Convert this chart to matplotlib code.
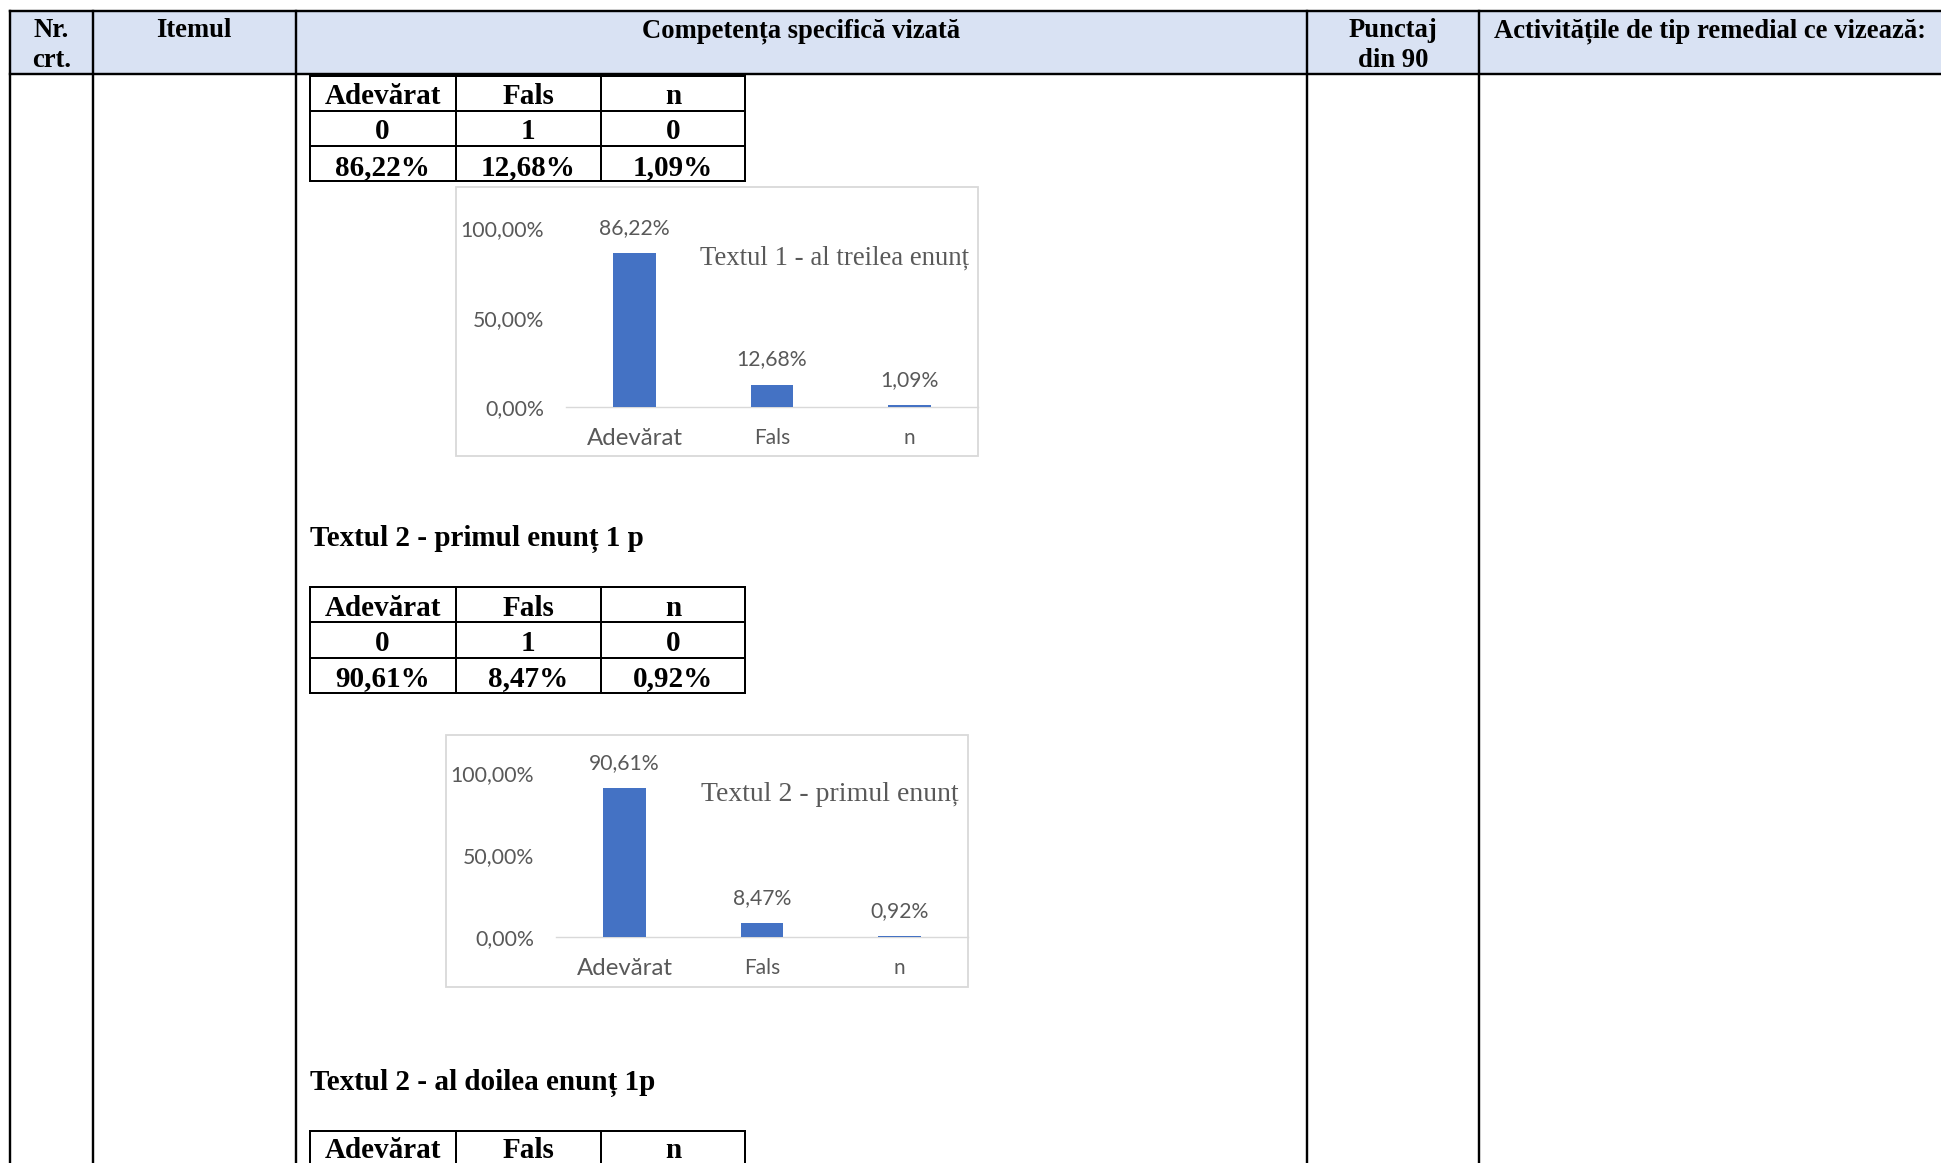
import matplotlib
matplotlib.use("Agg")
import matplotlib.pyplot as plt
from matplotlib.patches import Rectangle

# ---------------- data ----------------
categories = ["Adevărat", "Fals", "n"]
codes = ["0", "1", "0"]
chart1_values = [86.22, 12.68, 1.09]
chart2_values = [90.61, 8.47, 0.92]
chart1_title = "Textul 1 - al treilea enunț"
chart2_title = "Textul 2 - primul enunț"
heading2 = "Textul 2 - primul enunț 1 p"
heading3 = "Textul 2 - al doilea enunț 1p"
header_line1 = ["Nr.", "Itemul", "Competența specifică vizată", "Punctaj",
                "Activitățile de tip remedial ce vizează:"]
header_line2 = ["crt.", "", "", "din 90", ""]
y_ticks = [0, 50, 100]
y_tick_labels = ["0,00%", "50,00%", "100,00%"]


def pct(v):
    return f"{v:.2f}%".replace(".", ",")


W, H = 1941, 1163
fig = plt.figure(figsize=(W / 100, H / 100), dpi=100)
bg = fig.add_axes([0, 0, 1, 1])
bg.set_xlim(0, W)
bg.set_ylim(H, 0)
bg.axis("off")

SERIF = "Liberation Serif"
SANS = "Lato"
GREY = "#595959"


def hline(x0, x1, y, lw=2.4, color="black"):
    bg.plot([x0, x1], [y, y], color=color, lw=lw * 0.72, solid_capstyle="projecting")


def vline(x, y0, y1, lw=2.4, color="black"):
    bg.plot([x, x], [y0, y1], color=color, lw=lw * 0.72, solid_capstyle="projecting")


# ---------------- page table ----------------
bg.add_patch(Rectangle((10, 11), W - 10, 62.5, facecolor="#D9E2F3",
                       edgecolor="none", zorder=0))
hline(10, W + 5, 11)
hline(10, W + 5, 73.5)
col_x = [10, 92.8, 295.5, 1307.2, 1479.3]
for cx in col_x:
    vline(cx, 11, H + 5)

HDR_FS = 19.2
col_centers = [51.4, 194, 801, 1393.3]
for i, c in enumerate(col_centers):
    bg.text(c, 37.3, header_line1[i], ha="center", va="baseline",
            fontfamily=SERIF, fontweight="bold", fontsize=HDR_FS)
    if header_line2[i]:
        bg.text(c, 66.7, header_line2[i], ha="center", va="baseline",
                fontfamily=SERIF, fontweight="bold", fontsize=HDR_FS)
bg.text(1494, 37.3, header_line1[4], ha="left", va="baseline",
        fontfamily=SERIF, fontweight="bold", fontsize=HDR_FS)

# ---------------- small tables ----------------
tcols = [309.5, 455.6, 600.7, 745.2]
TAB_FS = 21


def draw_table(top, rows, n_rows=None, row_h=35.3, base_off=6.8):
    n = n_rows if n_rows is not None else len(rows)
    for r in range(n + 1):
        hline(tcols[0], tcols[-1], top + r * row_h, lw=2.0)
    for cx in tcols:
        vline(cx, top, top + n * row_h, lw=2.0)
    for r, row in enumerate(rows):
        for c, txt in enumerate(row):
            xc = (tcols[c] + tcols[c + 1]) / 2
            bg.text(xc, top + (r + 1) * row_h - base_off, txt, ha="center",
                    va="baseline", fontfamily=SERIF, fontweight="bold",
                    fontsize=TAB_FS)


draw_table(75.5, [categories, codes, [pct(v) for v in chart1_values]])
draw_table(587.0, [categories, codes, [pct(v) for v in chart2_values]])
# third table: only its header row falls inside the page crop
draw_table(1130.7, [categories], n_rows=3, base_off=8)

bg.text(310, 546, heading2, ha="left", va="baseline", fontfamily=SERIF,
        fontweight="bold", fontsize=21)
bg.text(310, 1090, heading3, ha="left", va="baseline", fontfamily=SERIF,
        fontweight="bold", fontsize=21)


# ---------------- charts ----------------
def draw_chart(box, axrect, values, title, title_xy, title_fs):
    bx0, by0, bx1, by1 = box
    bg.add_patch(Rectangle((bx0, by0), bx1 - bx0, by1 - by0, facecolor="white",
                           edgecolor="#D9D9D9", lw=1.3, zorder=1))
    x0, y0, x1, y1 = axrect
    ax = fig.add_axes([x0 / W, 1 - y1 / H, (x1 - x0) / W, (y1 - y0) / H])
    ax.set_facecolor("none")
    xs = list(range(len(values)))
    ax.bar(xs, values, width=0.31, color="#4472C4", zorder=3)
    ax.set_xlim(-0.5, len(values) - 0.5)
    ax.set_ylim(0, 100)
    ax.set_yticks(y_ticks)
    ax.set_yticklabels(y_tick_labels)
    ax.set_xticks(xs)
    ax.set_xticklabels(categories)
    for spine in ["top", "right", "left"]:
        ax.spines[spine].set_visible(False)
    ax.spines["bottom"].set_color("#D9D9D9")
    ax.spines["bottom"].set_linewidth(1.0)
    ax.tick_params(axis="both", length=0, colors=GREY)
    ax.tick_params(axis="y", pad=16)
    ax.tick_params(axis="x", pad=15)
    for lab in ax.get_yticklabels():
        lab.set_fontfamily(SANS)
        lab.set_fontsize(15.3)
    for i, lab in enumerate(ax.get_xticklabels()):
        lab.set_fontfamily(SANS)
        lab.set_fontsize(17.3 if i == 0 else 15)
    for x, v in zip(xs, values):
        ax.annotate(pct(v), (x, v), xytext=(0, 18), textcoords="offset points",
                    ha="center", va="center", fontfamily=SANS, fontsize=15.2,
                    color=GREY, annotation_clip=False)
    bg.text(title_xy[0], title_xy[1], title, ha="center", va="center",
            fontfamily=SERIF, fontsize=title_fs, color=GREY, zorder=5)
    return ax


draw_chart((455.5, 187, 978, 455.5), (566, 228, 978, 407.3), chart1_values,
           chart1_title, (835, 258.5), 19.3)
draw_chart((445.6, 735.3, 968, 986.6), (556, 773, 968, 937.3), chart2_values,
           chart2_title, (829.4, 794.5), 20)

fig.savefig("out.png", dpi=100)
